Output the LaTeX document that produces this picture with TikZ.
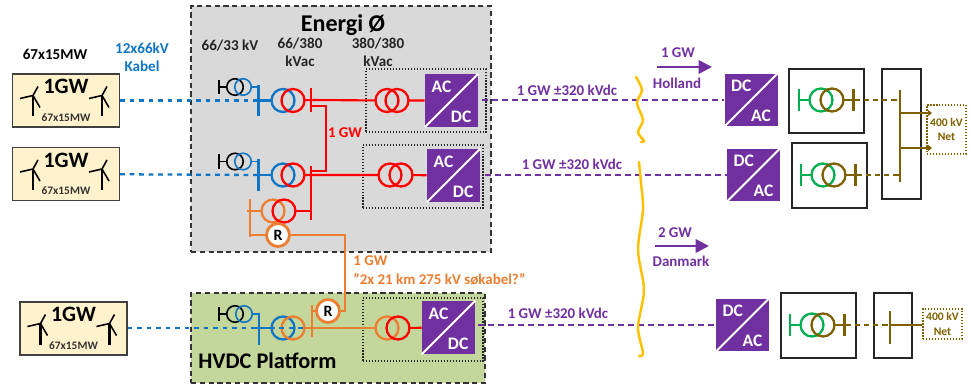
\documentclass[tikz,border=0pt]{standalone}
\usepackage{fontspec}
\setmainfont{Carlito}
\usetikzlibrary{arrows.meta}
\definecolor{pgray}{HTML}{D9D9D9}
\definecolor{pgreen}{HTML}{C3D69B}
\definecolor{pcream}{HTML}{FFF2CC}
\definecolor{pblue}{HTML}{0F75C4}
\definecolor{ppurple}{HTML}{7030A0}
\definecolor{pgrn}{HTML}{00B050}
\definecolor{pbrown}{HTML}{7F6000}
\definecolor{porange}{HTML}{ED7D31}
\definecolor{pyellow}{HTML}{FFC000}
\tikzset{
  zone/.style={draw=black!80,densely dashed,line width=0.7pt,minimum width=#1,inner sep=0pt},
  farm/.style={draw=black!75,fill=pcream,line width=0.8pt,minimum width=2.14cm,minimum height=1.06cm,inner sep=0pt},
  coil/.style={draw=#1,circle,line width=1.3pt,minimum size=0.46cm,inner sep=0pt,outer sep=0pt},
  auxcoil/.style={draw=#1,circle,line width=0.9pt,minimum size=0.33cm,inner sep=0pt,outer sep=0pt},
  busbar/.style={fill=#1,minimum width=0.05cm,inner sep=0pt,outer sep=0pt},
  wire/.style={draw=#1,line width=1.2pt},
  bluedash/.style={draw=pblue,line width=1.3pt,dash pattern=on 2.7pt off 2.7pt},
  purpledash/.style={draw=ppurple,line width=1.2pt,dash pattern=on 3.3pt off 2.4pt},
  browndash/.style={draw=pbrown,line width=1.2pt,dash pattern=on 3pt off 2.2pt},
  conv/.style={fill=ppurple,minimum width=1.06cm,minimum height=1.06cm,inner sep=0pt},
  convtext/.style={text=white,font=\fontsize{10}{11}\selectfont\bfseries,inner sep=1.5pt},
  dotbox/.style={draw=black!85,densely dotted,line width=0.7pt,inner sep=0pt},
  framebox/.style={draw=black!85,line width=0.8pt,inner sep=0pt},
  netbox/.style={draw=pbrown,densely dotted,line width=0.7pt,text=pbrown,align=center,font=\fontsize{6.6}{8}\selectfont\bfseries,inner sep=0pt},
  lab/.style={text=#1,align=center,font=\fontsize{8.5}{10}\selectfont\bfseries,inner sep=0pt},
  squiggle/.style={draw=pyellow,line width=1.4pt,line cap=round},
  pics/turbine/.style={code={
    \draw[line width=1.3pt] (0,0) -- (0,21);
    \draw[line width=0.9pt] (-13,3) -- (0,0) -- (5,-9);
    \draw[line width=0.9pt] (0,0) -- (7,12);
  }}
}
\begin{document}
\begin{tikzpicture}[x=0.02cm,y=-0.02cm]
\useasboundingbox (0,0) rectangle (971,385);
% Zones
\node[zone=6cm,fill=pgray,minimum height=4.92cm] (energi) at (341,129) {};
\node[zone=5.88cm,fill=pgreen,minimum height=1.8cm] (platform) at (338,338) {};
\node[font=\fontsize{13.7}{15}\selectfont\bfseries,inner sep=0pt] (energititle) at (343,25) {Energi Ø};
\node[anchor=west,font=\fontsize{12.7}{14}\selectfont\bfseries,inner sep=0pt] (platformtitle) at (198,361) {HVDC Platform};
% Wind farms
\foreach \n/\x/\y in {1/66/100.5,2/66/174,3/73.5/328.5} {
  \node[farm] (farm\n) at (\x,\y) {};
  \node[font=\fontsize{12.5}{13}\selectfont\bfseries,inner sep=0pt] (farmgw\n) at (\x,\y-14) {1GW};
  \node[font=\fontsize{6.5}{7}\selectfont\bfseries,text=black!80,inner sep=0pt] (farmmw\n) at (\x,\y+17) {67x15MW};
  \pic at (\x-33,\y-5) {turbine};
  \pic at (\x+36,\y-5) {turbine};
}
% Dotted boxes
\node[dotbox,minimum width=2.4cm,minimum height=1.26cm] (dot1) at (426,100.5) {};
\node[dotbox,minimum width=2.4cm,minimum height=1.26cm] (dot2) at (423,176.5) {};
\node[dotbox,minimum width=2.4cm,minimum height=1.26cm] (dot3) at (423,329.5) {};
% Converters
\foreach \n/\x/\y/\p/\q in {a1/451.5/100.5/AC/DC,a2/453.5/175.5/AC/DC,a3/448.5/327.5/AC/DC,d1/751/100/DC/AC,d2/753.5/175/DC/AC,d3/742.5/325/DC/AC} {
  \node[conv] (conv\n) at (\x,\y) {};
  \draw[white,line width=1.1pt] (conv\n.south west) -- (conv\n.north east);
  \node[convtext,anchor=north west] (conv\n-top) at ([xshift=0.08cm,yshift=-0.08cm]conv\n.north west) {\p};
  \node[convtext,anchor=south east] (conv\n-bot) at ([xshift=-0.08cm,yshift=0.04cm]conv\n.south east) {\q};
}
% Collector transformers
\foreach \n/\y in {1/100.5,2/175} {
  \node[auxcoil=black] (aux\n a) at (235,\y-13.5) {};
  \node[auxcoil=pblue] (aux\n b) at (243,\y-13.5) {};
  \node[busbar=black,minimum height=0.3cm] (auxbar\n) at (219,\y-13.5) {};
  \draw[wire=black,line width=0.9pt] (auxbar\n) -- (aux\n a);
  \node[busbar=pblue,minimum height=0.64cm] (lv\n) at (258.5,\y) {};
  \draw[wire=pblue,line width=0.9pt] (aux\n b) -| (lv\n.north);
  \node[coil=pblue] (main\n a) at (283,\y) {};
  \node[coil=red] (main\n b) at (293,\y) {};
  \draw[wire=pblue] (253,\y) -- (main\n a);
  \draw[bluedash] (farm\n) -- (lv\n);
}
% Red bars
\node[busbar=red,minimum height=0.48cm] (hv1) at (311,100) {};
\node[busbar=red,minimum height=1.08cm] (hv2) at (311,193) {};
\coordinate (tie1) at (311,106);
\coordinate (tie2) at (311,171);
\node[coil=red] (exp1a) at (387,100.5) {};
\node[coil=red] (exp1b) at (397,100.5) {};
\node[coil=red] (exp2a) at (390,175) {};
\node[coil=red] (exp2b) at (401,175) {};
\draw[wire=red] (main1b) -- (hv1) -- (exp1a) (exp1b) -- (conva1);
\draw[wire=red] (main2b) -- (hv2 |- main2b) -- (exp2a) (exp2b) -- (conva2);
\draw[wire=red] (tie1) -- (326,106) -- (326,171) -- (tie2);
\node[lab=red] (redlabel) at (345,133) {1 GW};
% Orange link
\node[coil=porange] (reacta) at (273,211) {};
\node[coil=red] (reactb) at (284,211) {};
\node[busbar=porange,minimum height=0.76cm] (orbar1) at (250,218) {};
\node[coil=porange,fill=white,line width=1.6pt,text=black,font=\fontsize{9}{10}\selectfont\bfseries] (rtop) at (278,235) {R};
\node[coil=porange,fill=white,line width=1.6pt,text=black,font=\fontsize{9}{10}\selectfont\bfseries] (rbot) at (328,311) {R};
\node[busbar=porange,minimum height=0.64cm] (orbar2) at (312,321) {};
\draw[wire=red] (reactb) -- (hv2 |- reactb);
\draw[wire=porange] (reacta) -- (247,211);
\draw[wire=porange] (orbar1 |- rtop) -- (rtop) -- (345,235) -- (345,311) -- (rbot) -- (orbar2 |- rbot);
\node[lab=porange,anchor=west,align=left] (orlabel1) at (353,261) {1 GW};
\node[lab=porange,anchor=west,align=left] (orlabel2) at (353,279) {”2x 21 km 275 kV søkabel?”};
% Platform transformers
\node[auxcoil=black] (aux3a) at (235,314) {};
\node[auxcoil=pblue] (aux3b) at (244,314) {};
\node[busbar=black,minimum height=0.3cm] (auxbar3) at (219,314) {};
\draw[wire=black,line width=0.9pt] (auxbar3) -- (aux3a);
\node[busbar=pblue,minimum height=0.62cm] (lv3) at (259,329.5) {};
\draw[wire=pblue,line width=0.9pt] (aux3b) -| (lv3.north);
\node[coil=pblue] (main3a) at (283,328) {};
\node[coil=porange] (main3b) at (293,328) {};
\draw[wire=pblue] (253,328) -- (main3a);
\coordinate (bluend) at (303,328);
\draw[bluedash] (farm3.east |- bluend) -- (bluend);
\node[coil=porange] (exp3a) at (387,328) {};
\node[coil=red] (exp3b) at (398,328) {};
\draw[wire=porange] (main3b) -- (exp3a);
\draw[wire=red] (exp3b) -- (conva3);
% DC lines
\draw[purpledash] (482,100) -- (convd1);
\draw[purpledash] (485,175) -- (convd2);
\draw[purpledash] (478,325) -- (convd3);
\node[lab=ppurple] (dclabel1) at (567,90) {1 GW ±320 kVdc};
\node[lab=ppurple] (dclabel2) at (572,164) {1 GW ±320 kVdc};
\node[lab=ppurple] (dclabel3) at (558,313) {1 GW ±320 kVdc};
% Breaks
\draw[squiggle] plot[smooth] coordinates {(636,77) (642,90) (637,103) (643,120) (638,132) (644,141) (641,142)};
\draw[squiggle] plot[smooth] coordinates {(639,162) (641,183) (643,210) (638,250) (644,290) (638,327) (643,353) (639,356)};
% Flow arrows
\coordinate (nlstart) at (657,67);
\coordinate (nlend) at (712,67);
\coordinate (dkstart) at (655,246);
\coordinate (dkend) at (709,246);
\draw[ppurple,line width=1.5pt,-{Triangle[length=0.27cm,width=0.27cm]}] (nlstart) -- (nlend);
\draw[ppurple,line width=1.5pt,-{Triangle[length=0.27cm,width=0.27cm]}] (dkstart) -- (dkend);
\node[lab=ppurple] (nlgw) at (678,53) {1 GW};
\node[lab=ppurple] (nlname) at (677,83) {Holland};
\node[lab=ppurple] (dkgw) at (675,233) {2 GW};
\node[lab=ppurple] (dkname) at (681,261) {Danmark};
% Onshore frames
\node[framebox,minimum width=1.5cm,minimum height=1.28cm] (frame1) at (826.5,101) {};
\node[framebox,minimum width=1.5cm,minimum height=1.3cm] (frame2) at (829.5,175.5) {};
\node[framebox,minimum width=1.5cm,minimum height=1.3cm] (frame3) at (818.5,325.5) {};
\node[framebox,minimum width=0.78cm,minimum height=2.6cm] (frame4) at (901.5,134) {};
\node[framebox,minimum width=0.76cm,minimum height=1.3cm] (frame5) at (893,325.5) {};
% Onshore transformers
\foreach \n/\x/\y in {1/0/100,2/2/175,3/-9/325} {
  \node[busbar=pgrn,minimum height=0.44cm] (gbar\n) at (799+\x,\y) {};
  \node[coil=pgrn] (ga\n) at (821+\x,\y) {};
  \node[coil=pbrown] (gb\n) at (832+\x,\y) {};
  \node[busbar=pbrown,minimum height=0.44cm] (bbar\n) at (853.5+\x,\y) {};
  \draw[wire=pgrn] (gbar\n) -- (ga\n);
  \draw[wire=pbrown] (gb\n) -- (bbar\n);
}
\node[busbar=pbrown,minimum height=1.84cm] (grid1) at (900,136) {};
\node[busbar=pbrown,minimum height=0.66cm] (grid2) at (890,327.5) {};
\draw[browndash] (bbar1) -- (grid1 |- bbar1);
\draw[browndash] (bbar2) -- (grid1 |- bbar2);
\draw[browndash] (bbar3) -- (grid2 |- bbar3);
% Grid
\node[netbox,minimum width=0.78cm,minimum height=0.98cm] (net1) at (946.5,129.5) {400 kV\\Net};
\node[netbox,minimum width=0.78cm,minimum height=0.6cm] (net2) at (942.5,324) {400 kV\\Net};
\coordinate (net1top) at (932,113);
\coordinate (net1low) at (932,148);
\draw[wire=pbrown,-{Triangle[length=0.08cm,width=0.12cm]}] (grid1 |- net1top) -- (net1top);
\draw[wire=pbrown,-{Triangle[length=0.08cm,width=0.12cm]}] (grid1 |- net1low) -- (net1low);
\draw[wire=pbrown] (grid2 |- bbar3) -- (net2.west |- bbar3);
% Header labels
\node[font=\fontsize{8.6}{10}\selectfont\bfseries,inner sep=0pt] (farmtop) at (55,54) {67x15MW};
\node[lab=pblue,font=\fontsize{8.6}{10.2}\selectfont\bfseries] (kabel) at (142,57) {12x66kV\\Kabel};
\node[lab=black!85,font=\fontsize{8.6}{10.2}\selectfont\bfseries] (volt1) at (230,46) {66/33 kV};
\node[lab=black!85,font=\fontsize{8.6}{10.2}\selectfont\bfseries] (volt2) at (300,52) {66/380\\kVac};
\node[lab=black!85,font=\fontsize{8.6}{10.2}\selectfont\bfseries] (volt3) at (378,52) {380/380\\kVac};
\end{tikzpicture}
\end{document}
